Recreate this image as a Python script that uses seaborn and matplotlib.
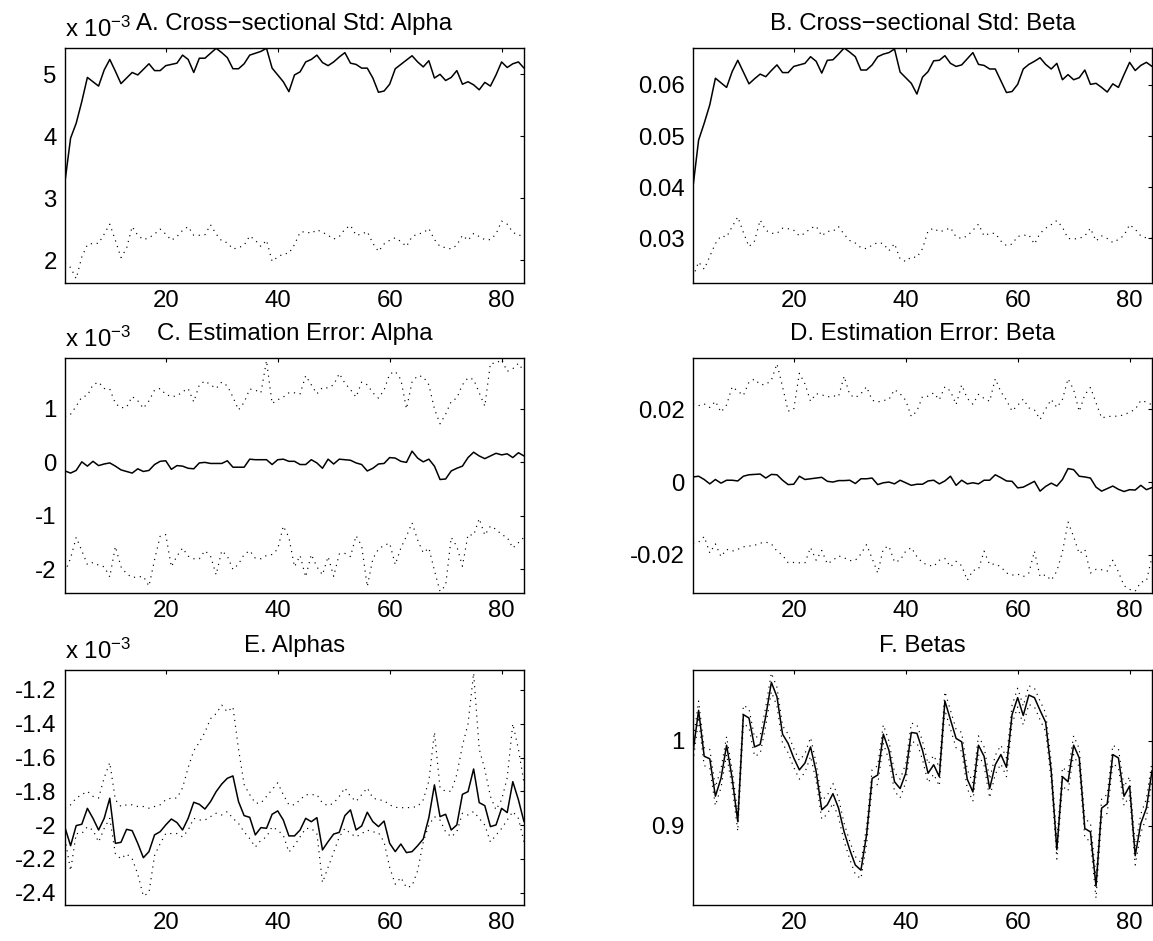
import matplotlib
matplotlib.use("Agg")
import matplotlib.pyplot as plt
import seaborn as sns
import pandas as pd
from matplotlib.ticker import FixedLocator, FormatStrFormatter

# ---------------- data (x = month index) ----------------
months = list(range(2, 85))

# A. cross-sectional std of alpha (x 1e-3)
a_std_solid = [3.27, 3.97, 4.21, 4.56, 4.95, 4.88, 4.81, 5.07, 5.24, 5.05,
               4.85, 4.94, 5.03, 4.99, 5.08, 5.17, 5.06, 5.06, 5.14, 5.16,
               5.18, 5.31, 5.24, 5.03, 5.26, 5.26, 5.34, 5.42, 5.35, 5.27,
               5.09, 5.09, 5.17, 5.31, 5.34, 5.37, 5.42, 5.10, 4.99, 4.88,
               4.72, 4.99, 5.04, 5.20, 5.24, 5.31, 5.19, 5.14, 5.20, 5.28,
               5.35, 5.18, 5.16, 5.10, 5.10, 4.94, 4.71, 4.73, 4.84, 5.09,
               5.16, 5.23, 5.30, 5.20, 5.12, 5.22, 4.94, 5.00, 4.90, 4.95,
               5.06, 4.84, 4.88, 4.83, 4.75, 4.87, 4.81, 4.99, 5.20, 5.11,
               5.17, 5.20, 5.10]
a_std_dotted = [1.95, 1.88, 1.70, 2.05, 2.25, 2.27, 2.27, 2.42, 2.58, 2.32,
                2.04, 2.19, 2.54, 2.40, 2.33, 2.36, 2.42, 2.50, 2.42, 2.32,
                2.38, 2.48, 2.54, 2.40, 2.40, 2.41, 2.57, 2.42, 2.31, 2.28,
                2.18, 2.20, 2.24, 2.39, 2.32, 2.22, 2.32, 1.98, 2.05, 2.10,
                2.11, 2.25, 2.45, 2.46, 2.43, 2.49, 2.45, 2.40, 2.34, 2.38,
                2.50, 2.56, 2.40, 2.42, 2.46, 2.27, 2.14, 2.26, 2.32, 2.36,
                2.30, 2.22, 2.38, 2.42, 2.44, 2.51, 2.33, 2.22, 2.20, 2.18,
                2.24, 2.40, 2.32, 2.43, 2.38, 2.33, 2.33, 2.42, 2.63, 2.58,
                2.45, 2.40, 2.40]

# B. cross-sectional std of beta
b_std_solid = [.0401, .0492, .0525, .0561, .0613, .0604, .0595, .0626, .0648, .0625,
               .0602, .0612, .0621, .0616, .0628, .0639, .0624, .0624, .0636, .0639,
               .0642, .0655, .0646, .0623, .0648, .0649, .0660, .0672, .0664, .0655,
               .0629, .0629, .0639, .0655, .0660, .0663, .0670, .0625, .0614, .0603,
               .0582, .0615, .0626, .0647, .0648, .0657, .0642, .0636, .0639, .0651,
               .0663, .0640, .0638, .0631, .0631, .0608, .0585, .0587, .0601, .0631,
               .0640, .0646, .0653, .0640, .0631, .0642, .0610, .0620, .0610, .0614,
               .0629, .0601, .0603, .0595, .0586, .0602, .0595, .0620, .0644, .0628,
               .0638, .0644, .0636]
b_std_dotted = [.0225, .0254, .0240, .0265, .0290, .0305, .0303, .0323, .0342, .0312,
                .0284, .0295, .0336, .0316, .0310, .0310, .0320, .0319, .0316, .0305,
                .0310, .0320, .0324, .0305, .0314, .0314, .0323, .0308, .0296, .0291,
                .0282, .0280, .0287, .0292, .0290, .0276, .0290, .0260, .0255, .0264,
                .0263, .0280, .0315, .0320, .0313, .0316, .0321, .0303, .0300, .0305,
                .0316, .0328, .0305, .0310, .0310, .0295, .0286, .0289, .0304, .0306,
                .0307, .0289, .0310, .0320, .0327, .0335, .0322, .0300, .0299, .0300,
                .0305, .0320, .0295, .0305, .0300, .0292, .0298, .0306, .0327, .0318,
                .0305, .0301, .0300]

# C. estimation error of alpha (x 1e-3)
c_err_solid = [-0.16, -0.20, -0.15, 0.01, -0.07, 0.02, -0.06, -0.03, -0.01, -0.07,
               -0.14, -0.17, -0.20, -0.12, -0.17, -0.15, -0.04, 0.02, 0.03, -0.13,
               -0.06, -0.07, -0.11, -0.12, -0.01, 0.00, -0.02, -0.02, -0.02, 0.03,
               -0.09, -0.09, -0.09, 0.06, 0.05, 0.05, 0.05, -0.04, 0.05, 0.06,
               0.02, 0.02, -0.04, -0.04, 0.05, -0.01, -0.11, 0.06, -0.03, 0.06,
               0.05, 0.04, -0.01, -0.04, -0.16, -0.11, -0.03, -0.02, 0.09, 0.08,
               0.02, 0.00, 0.21, 0.08, 0.01, 0.06, -0.07, -0.32, -0.31, -0.16,
               -0.11, -0.07, 0.09, 0.19, 0.12, 0.07, 0.12, 0.17, 0.14, 0.16,
               0.09, 0.18, 0.12]
c_err_upper = [0.85, 0.90, 1.05, 1.22, 1.25, 1.45, 1.50, 1.38, 1.37, 1.10,
               1.02, 1.03, 1.23, 1.15, 1.01, 1.15, 1.35, 1.38, 1.27, 1.23,
               1.24, 1.32, 1.38, 1.13, 1.45, 1.52, 1.45, 1.38, 1.50, 1.43,
               1.22, 0.98, 1.12, 1.37, 1.35, 1.30, 1.90, 1.10, 1.17, 1.22,
               1.30, 1.30, 1.28, 1.62, 1.45, 1.28, 1.40, 1.39, 1.45, 1.66,
               1.48, 1.36, 1.22, 1.50, 1.45, 1.30, 1.20, 1.35, 1.65, 1.70,
               1.55, 1.00, 1.50, 1.62, 1.60, 1.45, 1.00, 0.72, 0.90, 1.14,
               1.20, 1.45, 1.58, 1.55, 1.30, 1.05, 1.85, 1.85, 1.92, 1.70,
               1.75, 1.85, 1.70]
c_err_lower = [-2.05, -1.79, -1.40, -1.65, -1.91, -1.87, -1.92, -1.95, -2.14, -1.57,
               -1.95, -2.08, -2.15, -2.14, -2.13, -2.31, -1.82, -1.38, -1.35, -1.95,
               -1.75, -1.60, -1.75, -1.80, -1.80, -1.65, -1.75, -2.10, -1.65, -1.75,
               -2.00, -1.90, -1.72, -1.65, -1.79, -1.80, -1.74, -1.72, -1.62, -1.19,
               -1.40, -1.95, -1.74, -2.14, -1.72, -1.95, -2.10, -1.76, -2.13, -1.71,
               -1.70, -1.76, -1.37, -1.56, -2.32, -1.80, -1.62, -1.55, -1.51, -1.91,
               -1.60, -1.38, -1.13, -1.45, -1.69, -1.60, -2.02, -2.41, -2.30, -1.40,
               -1.57, -1.94, -1.35, -1.36, -1.05, -1.36, -1.19, -1.25, -1.35, -1.40,
               -1.60, -1.50, -1.40]

# D. estimation error of beta
d_err_solid = [.0014, .0016, .0007, -.0005, .0007, -.0003, .0005, .0005, .0003, .0016,
               .0020, .0021, .0022, .0011, .0021, .0020, .0005, -.0007, -.0006, .0016,
               .0007, .0009, .0011, .0013, .0002, .0000, .0004, .0004, .0005, -.0004,
               .0009, .0009, .0011, -.0007, -.0002, .0000, -.0005, .0005, -.0002, -.0009,
               -.0006, -.0006, .0003, .0005, -.0005, .0003, .0016, -.0009, .0005, -.0005,
               -.0002, -.0005, .0005, .0005, .0020, .0012, .0003, .0002, -.0016, -.0014,
               -.0006, .0002, -.0025, -.0012, -.0003, -.0011, .0007, .0037, .0034, .0016,
               .0014, .0011, -.0014, -.0025, -.0018, -.0011, -.0020, -.0026, -.0021, -.0022,
               -.0009, -.0021, -.0015]
d_err_upper = [.0215, .0210, .0215, .0205, .0222, .0192, .0212, .0262, .0250, .0238,
               .0275, .0283, .0268, .0268, .0280, .0325, .0262, .0195, .0200, .0299,
               .0270, .0222, .0243, .0240, .0234, .0237, .0235, .0291, .0240, .0232,
               .0243, .0262, .0225, .0220, .0224, .0227, .0254, .0243, .0225, .0180,
               .0195, .0235, .0236, .0245, .0226, .0262, .0250, .0213, .0267, .0230,
               .0214, .0241, .0230, .0222, .0284, .0248, .0225, .0195, .0211, .0228,
               .0204, .0198, .0172, .0201, .0227, .0205, .0227, .0284, .0254, .0194,
               .0240, .0260, .0218, .0176, .0180, .0181, .0181, .0185, .0192, .0200,
               .0224, .0220, .0212]
d_err_lower = [-.0168, -.0165, -.0150, -.0195, -.0170, -.0205, -.0185, -.0190, -.0185, -.0178,
               -.0176, -.0174, -.0168, -.0165, -.0170, -.0190, -.0201, -.0222, -.0221, -.0222,
               -.0222, -.0180, -.0215, -.0188, -.0225, -.0215, -.0203, -.0208, -.0216, -.0215,
               -.0198, -.0172, -.0210, -.0250, -.0183, -.0176, -.0220, -.0215, -.0190, -.0180,
               -.0205, -.0222, -.0228, -.0232, -.0215, -.0210, -.0233, -.0218, -.0230, -.0270,
               -.0243, -.0240, -.0190, -.0227, -.0225, -.0233, -.0250, -.0256, -.0253, -.0260,
               -.0250, -.0190, -.0260, -.0255, -.0270, -.0245, -.0192, -.0110, -.0150, -.0197,
               -.0185, -.0250, -.0240, -.0241, -.0245, -.0215, -.0247, -.0285, -.0295, -.0300,
               -.0275, -.0272, -.0206]

# E. alphas (x 1e-3)
e_alpha_solid = [-2.015, -2.122, -2.003, -1.995, -1.901, -1.960, -2.029, -1.960, -1.841, -2.108,
                 -2.102, -2.025, -2.033, -2.108, -2.193, -2.157, -2.058, -2.039, -1.999, -1.964,
                 -1.985, -2.029, -1.960, -1.865, -1.877, -1.905, -1.861, -1.802, -1.757, -1.723,
                 -1.709, -1.861, -1.944, -1.954, -2.058, -2.015, -2.019, -1.936, -1.916, -1.970,
                 -2.064, -2.064, -2.029, -1.960, -1.980, -1.956, -2.147, -2.098, -2.053, -2.043,
                 -1.944, -1.910, -2.029, -2.005, -1.924, -1.980, -2.009, -1.976, -2.108, -2.157,
                 -2.112, -2.163, -2.157, -2.122, -2.082, -1.956, -1.762, -1.950, -1.936, -2.029,
                 -1.999, -1.818, -1.802, -1.668, -1.867, -1.885, -2.009, -1.999, -1.901, -1.926,
                 -1.743, -1.850, -1.980]
e_alpha_upper = [-1.90, -1.88, -1.84, -1.82, -1.80, -1.83, -1.84, -1.72, -1.63, -1.85,
                 -1.89, -1.88, -1.88, -1.89, -1.89, -1.90, -1.89, -1.88, -1.85, -1.84,
                 -1.84, -1.78, -1.66, -1.56, -1.51, -1.45, -1.37, -1.34, -1.29, -1.33,
                 -1.30, -1.55, -1.76, -1.82, -1.87, -1.87, -1.83, -1.79, -1.75, -1.82,
                 -1.88, -1.88, -1.85, -1.82, -1.82, -1.82, -1.87, -1.885, -1.87, -1.83,
                 -1.78, -1.83, -1.86, -1.82, -1.78, -1.84, -1.85, -1.855, -1.88, -1.895,
                 -1.897, -1.897, -1.895, -1.89, -1.85, -1.74, -1.45, -1.78, -1.80, -1.80,
                 -1.70, -1.53, -1.40, -1.10, -1.55, -1.67, -1.83, -1.91, -1.85, -1.72,
                 -1.40, -1.55, -1.75]
e_alpha_lower = [-2.08, -2.27, -2.05, -2.05, -2.01, -2.03, -2.10, -2.02, -1.96, -2.17,
                 -2.20, -2.17, -2.20, -2.29, -2.42, -2.40, -2.18, -2.11, -2.05, -2.05,
                 -2.05, -2.07, -2.03, -1.96, -1.97, -1.97, -1.95, -1.93, -1.94, -1.92,
                 -1.96, -1.99, -2.04, -2.08, -2.13, -2.09, -2.07, -2.01, -2.03, -2.06,
                 -2.16, -2.12, -2.07, -2.02, -2.02, -2.05, -2.34, -2.25, -2.16, -2.07,
                 -2.02, -2.05, -2.07, -2.05, -2.03, -2.04, -2.045, -2.10, -2.25, -2.35,
                 -2.31, -2.37, -2.36, -2.27, -2.10, -2.00, -1.95, -1.97, -2.04, -2.07,
                 -2.04, -1.93, -1.94, -1.92, -1.96, -2.00, -2.10, -2.06, -2.02, -1.97,
                 -1.92, -1.96, -2.10]

# F. betas
f_beta_solid = [0.987, 1.036, 0.982, 0.979, 0.935, 0.956, 0.995, 0.956, 0.905, 1.031,
                1.027, 0.993, 0.996, 1.029, 1.069, 1.052, 1.008, 0.997, 0.980, 0.966,
                0.974, 0.993, 0.964, 0.919, 0.925, 0.938, 0.921, 0.893, 0.872, 0.854,
                0.848, 0.889, 0.956, 0.960, 1.008, 0.989, 0.952, 0.944, 0.962, 1.010,
                1.009, 0.989, 0.962, 0.972, 0.958, 1.047, 1.025, 1.003, 0.999, 0.955,
                0.940, 0.995, 0.982, 0.944, 0.972, 0.984, 0.969, 1.031, 1.051, 1.030,
                1.054, 1.051, 1.036, 1.022, 0.964, 0.872, 0.958, 0.952, 0.995, 0.980,
                0.897, 0.893, 0.829, 0.921, 0.926, 0.984, 0.980, 0.935, 0.947, 0.865,
                0.903, 0.921, 0.965]
f_beta_upper = [0.998, 1.047, 0.992, 0.990, 0.946, 0.967, 1.005, 0.966, 0.915, 1.042,
                1.038, 1.004, 1.006, 1.040, 1.080, 1.063, 1.018, 1.008, 0.991, 0.977,
                0.985, 1.004, 0.974, 0.930, 0.936, 0.950, 0.933, 0.903, 0.882, 0.864,
                0.857, 0.899, 0.966, 0.971, 1.019, 1.000, 0.963, 0.955, 0.973, 1.021,
                1.019, 1.000, 0.973, 0.983, 0.969, 1.058, 1.036, 1.014, 1.010, 0.966,
                0.951, 1.006, 0.993, 0.955, 0.983, 0.995, 0.980, 1.042, 1.062, 1.041,
                1.065, 1.062, 1.047, 1.033, 0.975, 0.883, 0.969, 0.963, 1.006, 0.991,
                0.908, 0.904, 0.840, 0.932, 0.937, 0.995, 0.991, 0.946, 0.958, 0.876,
                0.914, 0.932, 0.976]
f_beta_lower = [0.976, 1.025, 0.971, 0.968, 0.924, 0.945, 0.984, 0.945, 0.894, 1.020,
                1.016, 0.982, 0.985, 1.018, 1.058, 1.041, 0.997, 0.986, 0.969, 0.955,
                0.963, 0.982, 0.953, 0.908, 0.914, 0.927, 0.910, 0.882, 0.861, 0.843,
                0.838, 0.878, 0.945, 0.949, 0.997, 0.978, 0.941, 0.933, 0.951, 0.999,
                0.998, 0.978, 0.951, 0.961, 0.947, 1.036, 1.014, 0.992, 0.988, 0.944,
                0.929, 0.984, 0.971, 0.933, 0.961, 0.973, 0.958, 1.020, 1.040, 1.019,
                1.043, 1.040, 1.025, 1.011, 0.953, 0.861, 0.947, 0.941, 0.984, 0.969,
                0.886, 0.882, 0.815, 0.910, 0.915, 0.973, 0.969, 0.924, 0.936, 0.854,
                0.892, 0.910, 0.954]

titles = ["A. Cross\u2212sectional Std: Alpha", "B. Cross\u2212sectional Std: Beta",
          "C. Estimation Error: Alpha", "D. Estimation Error: Beta",
          "E. Alphas", "F. Betas"]
xticks = [20, 40, 60, 80]

# ---------------- style ----------------
sns.set_style("white")
plt.rcParams['font.family'] = ['Liberation Sans', 'DejaVu Sans']
plt.rcParams['mathtext.fontset'] = 'custom'
plt.rcParams['mathtext.rm'] = 'Liberation Sans'
plt.rcParams['mathtext.it'] = 'Liberation Sans:italic'
plt.rcParams['axes.unicode_minus'] = False
plt.rcParams['text.color'] = 'black'
plt.rcParams['axes.labelcolor'] = 'black'
plt.rcParams['axes.titlecolor'] = 'black'

FS = 17.3
W, H = 1153, 941
fig = plt.figure(figsize=(W / 100, H / 100), dpi=100)
fig.patch.set_facecolor('white')


def rect(left_px, top_px, w=459, h=235):
    return [left_px / W, 1 - (top_px + h) / H, w / W, h / H]


panels = [
    dict(pos=rect(65, 48), solid=a_std_solid, dotted=[a_std_dotted], ylim=(1.63, 5.425),
         yticks=[2, 3, 4, 5], exp=True),
    dict(pos=rect(693, 48), solid=b_std_solid, dotted=[b_std_dotted], ylim=(0.0213, 0.0672),
         yticks=[0.03, 0.04, 0.05, 0.06], exp=False),
    dict(pos=rect(65, 358), solid=c_err_solid, dotted=[c_err_upper, c_err_lower], ylim=(-2.44, 1.95),
         yticks=[-2, -1, 0, 1], exp=True),
    dict(pos=rect(693, 358), solid=d_err_solid, dotted=[d_err_upper, d_err_lower], ylim=(-0.0305, 0.0341),
         yticks=[-0.02, 0, 0.02], exp=False),
    dict(pos=rect(65, 670), solid=e_alpha_solid, dotted=[e_alpha_upper, e_alpha_lower], ylim=(-2.473, -1.082),
         yticks=[-2.4, -2.2, -2.0, -1.8, -1.6, -1.4, -1.2], exp=True),
    dict(pos=rect(693, 670), solid=f_beta_solid, dotted=[f_beta_upper, f_beta_lower], ylim=(0.807, 1.0835),
         yticks=[0.9, 1.0], exp=False),
]

for p, title in zip(panels, titles):
    ax = fig.add_axes(p['pos'])
    for dser in p['dotted']:
        dd = pd.DataFrame({'month': months, 'value': dser})
        sns.lineplot(data=dd, x='month', y='value', ax=ax, color='black', linewidth=0.85,
                     linestyle=(0, (1, 4)), estimator=None)
    sd = pd.DataFrame({'month': months, 'value': p['solid']})
    sns.lineplot(data=sd, x='month', y='value', ax=ax, color='black', linewidth=1.1,
                 estimator=None)
    ax.set_xlim(2, 84)
    ax.set_ylim(*p['ylim'])
    ax.xaxis.set_major_locator(FixedLocator(xticks))
    ax.yaxis.set_major_locator(FixedLocator(p['yticks']))
    ax.yaxis.set_major_formatter(FormatStrFormatter('%g'))
    ax.set_xlabel('')
    ax.set_ylabel('')
    for s in ax.spines.values():
        s.set_visible(True)
        s.set_color('black')
        s.set_linewidth(1.0)
    ax.tick_params(axis='both', which='major', direction='in', top=True, right=True,
                   length=3, width=0.8, labelsize=FS, colors='black')
    ax.tick_params(axis='x', pad=5)
    ax.tick_params(axis='y', pad=6)
    ax.set_title(title, fontsize=FS, pad=13, color='black')
    if p['exp']:
        ax.text(0.0, 1.047, r'x 10$^{-3}$', transform=ax.transAxes, fontsize=FS,
                ha='left', va='baseline', color='black')
    ax.grid(False)

fig.savefig('out.png', dpi=100, facecolor='white')
